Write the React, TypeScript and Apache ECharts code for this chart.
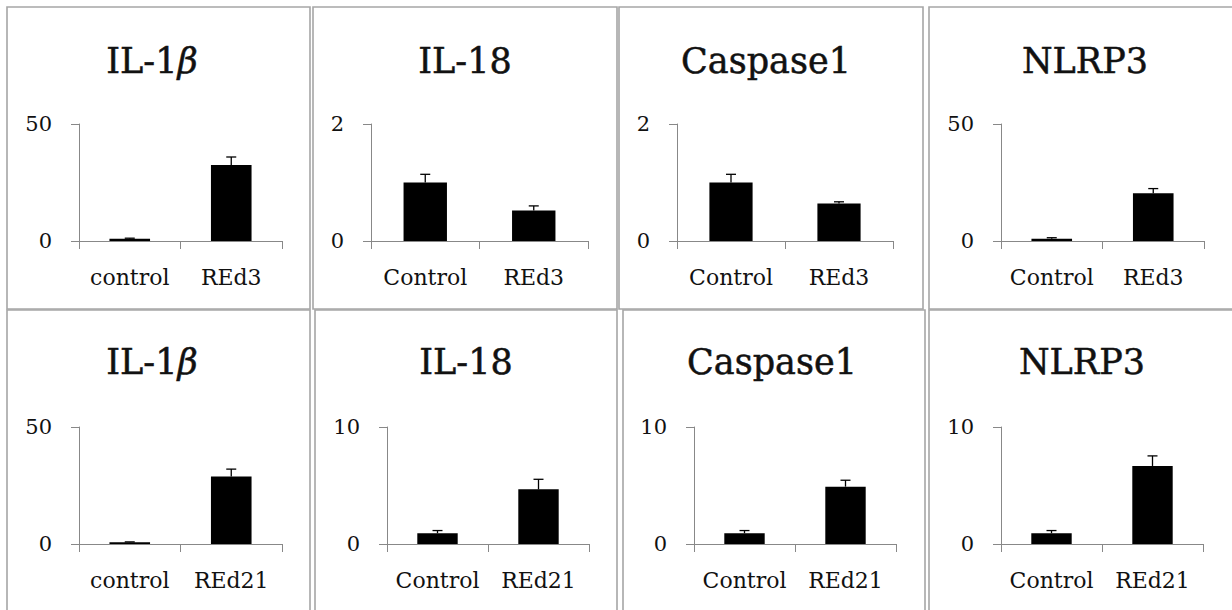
import React, { useEffect, useRef } from "react";
import * as echarts from "echarts";

// ---- data ----
const titles = ["IL-1β", "IL-18", "Caspase1", "NLRP3", "IL-1β", "IL-18", "Caspase1", "NLRP3"];
const catsRow1a = ["control", "REd3"];
const catsRow1b = ["Control", "REd3"];
const catsRow2a = ["control", "REd21"];
const catsRow2b = ["Control", "REd21"];
const categories = [catsRow1a, catsRow1b, catsRow1b, catsRow1b, catsRow2a, catsRow2b, catsRow2b, catsRow2b];
const yMax = [50, 2, 2, 50, 50, 10, 10, 10];
const il1bD3 = [1.0, 32.5];
const il18D3 = [1.0, 0.52];
const casp1D3 = [1.0, 0.64];
const nlrp3D3 = [1.0, 20.4];
const il1bD21 = [0.7, 28.8];
const il18D21 = [0.92, 4.67];
const casp1D21 = [0.92, 4.9];
const nlrp3D21 = [0.92, 6.67];
const means = [il1bD3, il18D3, casp1D3, nlrp3D3, il1bD21, il18D21, casp1D21, nlrp3D21];
const il1bD3Err = [0.2, 3.4];
const il18D3Err = [0.14, 0.08];
const casp1D3Err = [0.14, 0.03];
const nlrp3D3Err = [0.4, 2.0];
const il1bD21Err = [0.2, 3.2];
const il18D21Err = [0.23, 0.86];
const casp1D21Err = [0.23, 0.55];
const nlrp3D21Err = [0.23, 0.86];
const errors = [il1bD3Err, il18D3Err, casp1D3Err, nlrp3D3Err, il1bD21Err, il18D21Err, casp1D21Err, nlrp3D21Err];

// ---- layout ----
const grids = [
  { left: 79, top: 124, width: 203, height: 117 },
  { left: 371, top: 124, width: 217, height: 117 },
  { left: 677, top: 124, width: 216, height: 117 },
  { left: 1001, top: 124, width: 203, height: 117 },
  { left: 79, top: 427, width: 203, height: 117 },
  { left: 387, top: 427, width: 202, height: 117 },
  { left: 694, top: 427, width: 202, height: 117 },
  { left: 1001, top: 427, width: 202, height: 117 },
];
const titlePos = [
  [152, 61], [465, 61], [766, 61], [1085, 61],
  [152, 362], [466, 362], [772, 362], [1082, 362],
];
const boxes = [
  [7, 7, 303, 302], [313, 7, 304, 302], [619, 7, 304, 302], [929, 7, 320, 302],
  [7, 310, 303, 310], [315, 310, 302, 310], [623, 310, 302, 310], [929, 310, 320, 310],
];

const FONT = "'DejaVu Serif', 'Liberation Serif', serif";
const TEXT = "#111111";
const AXIS = "#888888";

export default function App() {
  const ref = useRef<HTMLDivElement>(null);
  useEffect(() => {
    document.body.style.margin = "0";
    const chart = echarts.init(ref.current!, null, { renderer: "svg" });
    const xAxis: any[] = [];
    const yAxis: any[] = [];
    const series: any[] = [];
    const graphic: any[] = [];
    grids.forEach((g, i) => {
      xAxis.push({
        type: "category",
        gridIndex: i,
        data: categories[i],
        axisLine: { lineStyle: { color: AXIS, width: 1 } },
        axisTick: { show: true, length: 8, lineStyle: { color: AXIS } },
        axisLabel: { color: TEXT, fontFamily: FONT, fontSize: 22, margin: 25, interval: 0, hideOverlap: false },
      });
      yAxis.push({
        type: "value",
        gridIndex: i,
        min: 0,
        max: yMax[i],
        interval: yMax[i],
        splitLine: { show: false },
        axisLine: { show: true, lineStyle: { color: AXIS, width: 1 } },
        axisTick: { show: true, length: 8, lineStyle: { color: AXIS } },
        axisLabel: { color: TEXT, fontFamily: FONT, fontSize: 21, margin: 27 },
      });
      series.push({
        type: "bar",
        xAxisIndex: i,
        yAxisIndex: i,
        data: means[i],
        barWidth: "40%",
        itemStyle: { color: "#000000" },
      });
      series.push({
        type: "custom",
        xAxisIndex: i,
        yAxisIndex: i,
        data: means[i].map((m, k) => [k, m, m + errors[i][k]]),
        renderItem: (params: any, api: any) => {
          const x = api.value(0);
          const lo = api.coord([x, api.value(1)]);
          const hi = api.coord([x, api.value(2)]);
          const st = { stroke: "#000", lineWidth: 1.3 };
          return {
            type: "group",
            children: [
              { type: "line", shape: { x1: lo[0], y1: lo[1], x2: hi[0], y2: hi[1] }, style: st },
              { type: "line", shape: { x1: hi[0] - 5, y1: hi[1], x2: hi[0] + 5, y2: hi[1] }, style: st },
            ],
          };
        },
        z: 3,
      });
      const b = boxes[i];
      graphic.push({
        type: "rect",
        shape: { x: b[0], y: b[1], width: b[2], height: b[3] },
        style: { fill: "none", stroke: "#a6a6a6", lineWidth: 1.6 },
        silent: true,
      });
      const t = titles[i];
      const hasBeta = t.endsWith("β");
      graphic.push({
        type: "text",
        x: titlePos[i][0],
        y: titlePos[i][1],
        style: {
          text: hasBeta ? "IL-1{b|β}" : t,
          font: `35px ${FONT}`,
          fill: TEXT,
          stroke: TEXT,
          lineWidth: 0.5,
          align: "center",
          verticalAlign: "middle",
          textAlign: "center",
          textVerticalAlign: "middle",
          rich: {
            b: { fontFamily: FONT, fontSize: 35, fontStyle: "italic", fill: TEXT, color: TEXT },
          },
        },
        silent: true,
      });
    });
    chart.setOption({
      animation: false,
      backgroundColor: "#ffffff",
      grid: grids.map((g) => ({ ...g, containLabel: false })),
      xAxis,
      yAxis,
      series,
      graphic,
    });
    return () => chart.dispose();
  }, []);
  return <div ref={ref} style={{ width: 1232, height: 610 }} />;
}
